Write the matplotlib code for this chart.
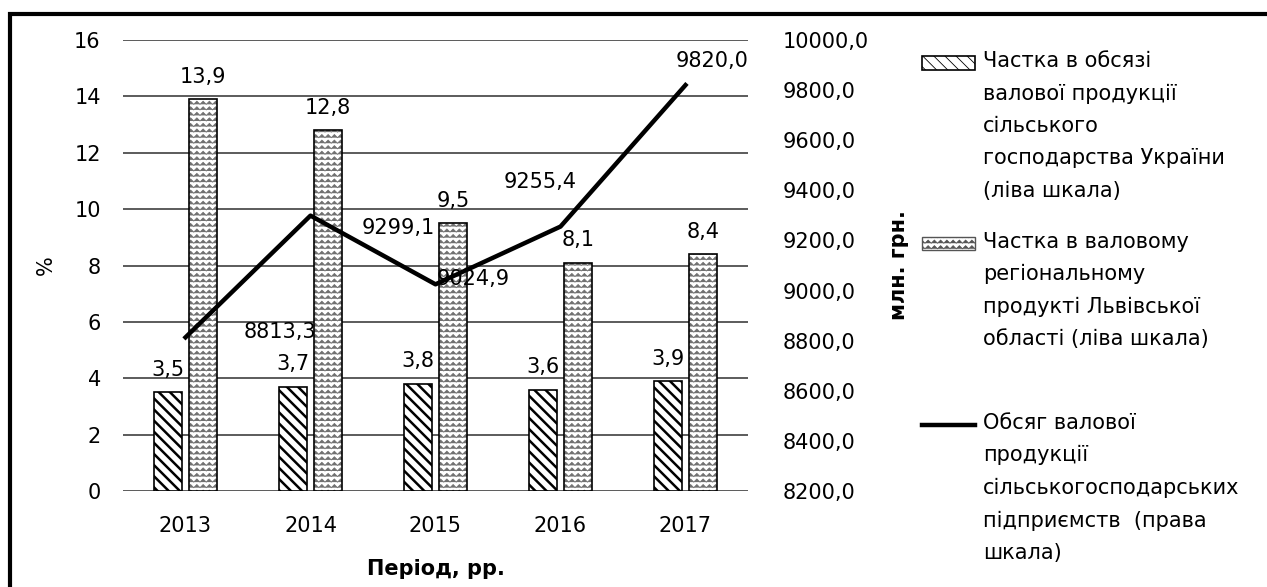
import warnings
import numpy as np
import matplotlib
matplotlib.use('Agg')
import matplotlib.pyplot as plt
import matplotlib.transforms as mtransforms
from matplotlib import hatch as mhatch
from matplotlib.path import Path
from matplotlib.patches import Rectangle, Patch
from matplotlib.legend_handler import HandlerPatch, HandlerLine2D
from matplotlib.ticker import FuncFormatter

warnings.filterwarnings('ignore')

years = ['2013', '2014', '2015', '2016', '2017']
share_ukraine = [3.5, 3.7, 3.8, 3.6, 3.9]      # % (left scale)
share_lviv = [13.9, 12.8, 9.5, 8.1, 8.4]       # % (left scale)
output_mln = [8813.3, 9299.1, 9024.9, 9255.4, 9820.0]  # млн. грн. (right scale)

left_ticks = list(range(0, 17, 2))
right_ticks = list(range(8200, 10001, 200))

label_ukr = 'Частка в обсязі\nвалової продукції\nсільського\nгосподарства України\n(ліва шкала)'
label_lviv = 'Частка в валовому\nрегіональному\nпродукті Львівської\nобласті (ліва шкала)\n'
label_line = 'Обсяг валової\nпродукції\nсільськогосподарських\nпідприємств  (права\nшкала)'


def comma(v, pos=None):
    return f'{v:.1f}'.replace('.', ',')


# wavy hatch, used with '~' in the hatch string
class WaveHatch(mhatch.HatchPatternBase):
    def __init__(self, hatch, density):
        self.num_rows = hatch.count('~') * density
        self.teeth = 16
        self.num_vertices = self.num_rows * (2 * self.teeth + 1)

    def set_vertices_and_codes(self, vertices, codes):
        n = 2 * self.teeth + 1
        xs = np.linspace(0, 1, n)
        amp = 0.28 / self.num_rows
        zig = np.where(np.arange(n) % 2 == 0, -amp, amp)
        for i in range(self.num_rows):
            y = (i + 0.5) / self.num_rows
            vertices[i * n:(i + 1) * n, 0] = xs
            vertices[i * n:(i + 1) * n, 1] = y + zig
            codes[i * n] = Path.MOVETO
            codes[i * n + 1:(i + 1) * n] = Path.LINETO


mhatch._hatch_types.append(WaveHatch)


class ShiftPatch(HandlerPatch):
    def __init__(self, shift, **kw):
        super().__init__(**kw)
        self.shift = shift

    def create_artists(self, legend, orig_handle, xdescent, ydescent, width, height, fontsize, trans):
        trans = mtransforms.Affine2D().translate(0, self.shift) + trans
        return super().create_artists(legend, orig_handle, xdescent, ydescent, width, height, fontsize, trans)


class ShiftLine(HandlerLine2D):
    def __init__(self, shift, **kw):
        super().__init__(**kw)
        self.shift = shift

    def create_artists(self, legend, orig_handle, xdescent, ydescent, width, height, fontsize, trans):
        trans = mtransforms.Affine2D().translate(0, self.shift) + trans
        return super().create_artists(legend, orig_handle, xdescent, ydescent, width, height, fontsize, trans)


plt.rcParams['font.family'] = 'DejaVu Sans'
plt.rcParams['font.size'] = 15

W, H = 1267, 587
fig = plt.figure(figsize=(W / 100, H / 100), dpi=100)
ax = fig.add_axes([123 / W, 96 / H, 625 / W, 451 / H])

x = np.arange(len(years))
bw = 0.23

plt.rcParams['hatch.linewidth'] = 1.8
b1 = ax.bar(x - 0.14, share_ukraine, bw, facecolor='white', edgecolor='black',
            linewidth=1.2, hatch='\\\\\\', zorder=2)
for p in b1.patches:
    if hasattr(p, 'set_hatch_linewidth'):
        p.set_hatch_linewidth(1.8)

# wavy texture in grey, then black outlines on top
plt.rcParams['hatch.linewidth'] = 0.6
ax.bar(x + 0.14, share_lviv, bw, facecolor='white', edgecolor='#707070',
       linewidth=0, hatch='~~~', zorder=2)
b2 = ax.bar(x + 0.14, share_lviv, bw, fill=False, edgecolor='black',
            linewidth=1.2, zorder=2.1)
wave_proxy = Patch(facecolor='white', edgecolor='#555555', linewidth=1, hatch='~~~')

ax.bar_label(b1, labels=[comma(v) for v in share_ukraine], padding=9, fontsize=15)
ax.bar_label(b2, labels=[comma(v) for v in share_lviv], padding=9, fontsize=15)

ax.set_xlim(-0.5, len(years) - 0.5)
ax.set_ylim(0, 16)
ax.set_yticks(left_ticks)
ax.set_xticks(x)
ax.set_xticklabels(years)
ax.grid(axis='y', color='#404040', linewidth=1.2)
ax.set_axisbelow(True)
for s in ax.spines.values():
    s.set_visible(False)
ax.tick_params(axis='y', length=0, pad=16)
ax.tick_params(axis='x', length=0, pad=18)
ax.set_ylabel('%')
ax.yaxis.set_label_coords(-0.108, 0.5)
ax.set_xlabel('Період, рр.', fontweight='bold')
ax.xaxis.set_label_coords(0.5, -0.15)

ax2 = ax.twinx()
line, = ax2.plot(x, output_mln, color='black', linewidth=3.2)
ax2.set_ylim(8200, 10000)
ax2.set_yticks(right_ticks)
ax2.yaxis.set_major_formatter(FuncFormatter(comma))
for s in ax2.spines.values():
    s.set_visible(False)
ax2.tick_params(axis='y', length=0, pad=25)
ax2.set_ylabel('млн. грн.', fontweight='bold')
ax2.yaxis.set_label_coords(1.225, 0.5)

offsets = [(68, 4), (63, -9), (27, 4), (-15, 32), (19, 17)]
for xi, v, off in zip(x, output_mln, offsets):
    ax2.annotate(comma(v), (xi, v), xytext=off, textcoords='offset points',
                 ha='center', va='center', fontsize=15)

# figure border
fig.patches.append(Rectangle((10 / W, -0.1), 1.2, (H - 14) / H + 0.1,
                             transform=fig.transFigure, fill=False,
                             edgecolor='black', linewidth=3))

step = 23
shift = 2 * step
leg = fig.legend(handles=[b1.patches[0], wave_proxy, line],
                 labels=[label_ukr, label_lviv, label_line],
                 loc='upper left', bbox_to_anchor=(922 / W, 1 - 51 / H),
                 frameon=False, borderpad=0, borderaxespad=0,
                 handlelength=2.55, handleheight=0.65, handletextpad=0.38,
                 labelspacing=1.5, fontsize=15,
                 handler_map={b1.patches[0]: ShiftPatch(shift),
                              wave_proxy: ShiftPatch(shift),
                              line: ShiftLine(shift)})
for t in leg.get_texts():
    t.set_linespacing(1.77)

fig.savefig('out.png', dpi=100)
